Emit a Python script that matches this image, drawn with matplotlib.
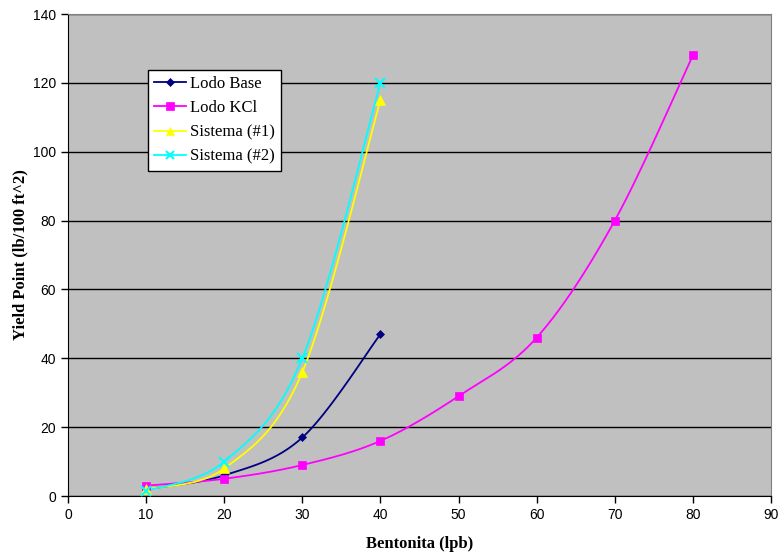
import numpy as np
import matplotlib
matplotlib.use("Agg")
import matplotlib.pyplot as plt

# Bentonite concentration (lpb) and yield point (lb/100 ft^2)
x_base = [10, 20, 30, 40]
y_base = [2, 6, 17, 47]
x_kcl = [10, 20, 30, 40, 50, 60, 70, 80]
y_kcl = [3, 5, 9, 16, 29, 46, 80, 128]
x_s1 = [10, 20, 30, 40]
y_s1 = [2, 8, 36, 115]
x_s2 = [10, 20, 30, 40]
y_s2 = [1.5, 10, 40, 120]

labels = ["Lodo Base", "Lodo KCl", "Sistema (#1)", "Sistema (#2)"]
colors = ["#000080", "#FF00FF", "#FFFF00", "#00FFFF"]
markers = ["D", "s", "^", "x"]
msizes = [4.5, 6, 7, 7]

W, H = 781, 553
fig = plt.figure(figsize=(W / 100, H / 100), dpi=100)
L, R, T, B = 68, 771, 14, 496
ax = fig.add_axes([L / W, (H - B) / H, (R - L) / W, (B - T) / H])
ax.set_facecolor("#C0C0C0")
ax.set_xlim(0, 90)
ax.set_ylim(0, 140)


def smooth(xs, ys, n=40):
    # Bezier smoothing in screen-proportional space (Excel-style smoothed line)
    sx, sy = (R - L) / 90.0, (B - T) / 140.0
    P = np.column_stack([np.asarray(xs, float) * sx, np.asarray(ys, float) * sy])
    out = [P[0]]
    m = len(P)
    for i in range(m - 1):
        p0 = P[i - 1] if i > 0 else P[i]
        p1, p2 = P[i], P[i + 1]
        p3 = P[i + 2] if i + 2 < m else P[i + 1]
        c1 = p1 + (p2 - p0) / 6.0
        c2 = p2 - (p3 - p1) / 6.0
        t = np.linspace(0, 1, n)[1:, None]
        seg = ((1 - t) ** 3) * p1 + 3 * ((1 - t) ** 2) * t * c1 + 3 * (1 - t) * t ** 2 * c2 + t ** 3 * p2
        out.extend(seg)
    out = np.array(out)
    return out[:, 0] / sx, out[:, 1] / sy


ax.yaxis.grid(True, color="black", linewidth=1.0)
ax.set_axisbelow(True)

series = [(x_base, y_base), (x_kcl, y_kcl), (x_s1, y_s1), (x_s2, y_s2)]
handles = []
for (xs, ys), lab, c, mk, ms in zip(series, labels, colors, markers, msizes):
    sxs, sys_ = smooth(xs, ys)
    ax.plot(sxs, sys_, color=c, linewidth=1.3, zorder=3)
    ax.plot(xs, ys, linestyle="none", marker=mk, color=c, markersize=ms,
            markeredgewidth=1.5 if mk == "x" else 0.5, zorder=4)
    h, = ax.plot([], [], color=c, linewidth=1.3, marker=mk, markersize=ms * 0.85,
                 markeredgewidth=1.5 if mk == "x" else 0.5)
    handles.append(h)

ax.set_xticks(np.arange(0, 91, 10))
ax.set_yticks(np.arange(0, 141, 20))
ax.tick_params(direction="out", length=5, width=1, labelsize=10, colors="black")
for lab in ax.get_xticklabels() + ax.get_yticklabels():
    lab.set_family("Liberation Sans")
for s in ["top", "right"]:
    ax.spines[s].set_color("#808080")
for s in ["left", "bottom"]:
    ax.spines[s].set_color("black")

ax.set_xlabel("Bentonita (lpb)", family="Liberation Serif", fontweight="bold",
              fontsize=12, labelpad=10)
ax.set_ylabel("Yield Point (lb/100 ft^2)", family="Liberation Serif",
              fontweight="bold", fontsize=12)
ax.yaxis.set_label_coords(-40 / (R - L), 0.5)

leg = ax.legend(handles, labels, loc="upper left", bbox_to_anchor=(80 / (R - L), 1 - 56 / (B - T)),
                prop={"family": "Liberation Serif", "size": 12}, frameon=True,
                fancybox=False, handlelength=1.9, handletextpad=0.3,
                labelspacing=0.5, borderpad=0.35, borderaxespad=0)
leg.get_frame().set_edgecolor("black")
leg.get_frame().set_linewidth(1.0)
leg.get_frame().set_facecolor("white")
leg.get_frame().set_alpha(1)

fig.savefig("out.png", dpi=100)
